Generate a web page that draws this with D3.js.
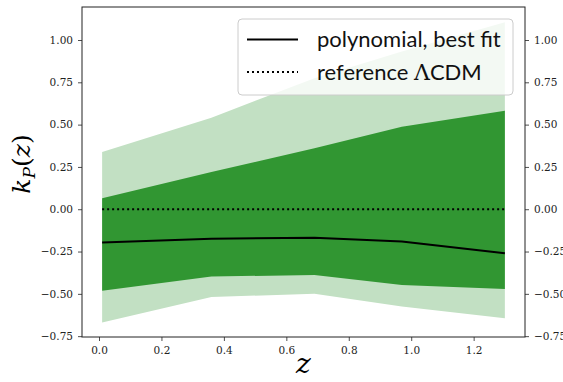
<!DOCTYPE html>
<html>
<head>
<meta charset="utf-8">
<script src="https://cdn.jsdelivr.net/npm/d3@7"></script>
<style>
  body { margin: 0; background: white; }
  svg { display: block; }
</style>
</head>
<body>
<div id="chart"></div>
<script>
// data -----------------------------------------------------------------------
const zKnots      = [0.01, 0.36, 0.69, 0.97, 1.30]
const outerUpper  = [0.338, 0.541, 0.774, 0.932, 1.105]   // light band (2 sigma)
const outerLower  = [-0.670, -0.518, -0.500, -0.575, -0.644]
const innerUpper  = [0.065, 0.220, 0.360, 0.488, 0.582]   // dark band (1 sigma)
const innerLower  = [-0.481, -0.398, -0.388, -0.447, -0.471]
const bestFit     = [-0.197, -0.175, -0.168, -0.191, -0.260]
const reference   = [0, 0, 0, 0, 0]

const xTicks = [0.0, 0.2, 0.4, 0.6, 0.8, 1.0, 1.2]
const yTicks = [-0.75, -0.5, -0.25, 0, 0.25, 0.5, 0.75, 1.0]

// layout ---------------------------------------------------------------------
const width = 563,
      height = 382,
      margin = {top: 7, right: 38, bottom: 45, left: 82},
      darkGreen  = "#319632",
      lightGreen = "#c2e0c3",
      serif = "'DejaVu Serif', 'Liberation Serif', serif"

const innerW = width - margin.left - margin.right,
      innerH = height - margin.top - margin.bottom

const svg = d3.select("#chart").append("svg")
  .attr("width", width)
  .attr("height", height)

const g = svg.append("g").attr("transform", `translate(${margin.left},${margin.top})`)

const x = d3.scaleLinear().domain([-0.0545, 1.3645]).range([0, innerW])
const y = d3.scaleLinear().domain([-0.755, 1.195]).range([innerH, 0])

const rows = zKnots.map((z, i) => ({
  z,
  o0: outerLower[i], o1: outerUpper[i],
  i0: innerLower[i], i1: innerUpper[i],
  fit: bestFit[i], ref: reference[i]
}))

// bands
g.append("path")
  .datum(rows)
  .attr("fill", lightGreen)
  .attr("d", d3.area().x(d => x(d.z)).y0(d => y(d.o0)).y1(d => y(d.o1)))

g.append("path")
  .datum(rows)
  .attr("fill", darkGreen)
  .attr("d", d3.area().x(d => x(d.z)).y0(d => y(d.i0)).y1(d => y(d.i1)))

// lines
g.append("path")
  .datum(rows)
  .attr("fill", "none")
  .attr("stroke", "black")
  .attr("stroke-width", 2)
  .attr("stroke-dasharray", "2,3")
  .attr("d", d3.line().x(d => x(d.z)).y(d => y(d.ref)))

g.append("path")
  .datum(rows)
  .attr("fill", "none")
  .attr("stroke", "black")
  .attr("stroke-width", 2)
  .attr("d", d3.line().x(d => x(d.z)).y(d => y(d.fit)))

// axes
const fmtY = v => d3.format(".2f")(v).replace("-", "\u2212")

const styleAxis = sel => {
  sel.select(".domain").remove()
  sel.selectAll(".tick line").attr("stroke", "#222").attr("stroke-width", 0.8)
  sel.selectAll(".tick text")
    .style("font-family", serif)
    .style("font-size", "10.5px")
    .attr("fill", "#222")
}

g.append("g")
  .attr("transform", `translate(0,${innerH})`)
  .call(d3.axisBottom(x).tickValues(xTicks).tickFormat(d3.format(".1f")).tickSize(4).tickPadding(6))
  .call(styleAxis)

g.append("g")
  .call(d3.axisLeft(y).tickValues(yTicks).tickFormat(fmtY).tickSize(4).tickPadding(5))
  .call(styleAxis)

// right twin axis; its labels run off the page edge as in the original
g.append("g")
  .attr("transform", `translate(${innerW},0)`)
  .call(d3.axisRight(y).tickValues(yTicks).tickFormat(fmtY).tickSize(4).tickPadding(5))
  .call(styleAxis)

// frame
g.append("rect")
  .attr("width", innerW)
  .attr("height", innerH)
  .attr("fill", "none")
  .attr("stroke", "#222")
  .attr("stroke-width", 1)

// axis titles
svg.append("text")
  .style("font-family", serif)
  .style("font-style", "italic")
  .style("font-size", "28px")
  .attr("x", margin.left + innerW / 2)
  .attr("y", 373)
  .attr("text-anchor", "middle")
  .text("z")

const yl = svg.append("text")
  .style("font-family", serif)
  .style("font-size", "25px")
  .attr("transform", `translate(30,${margin.top + innerH / 2 - 8}) rotate(-90)`)
  .attr("text-anchor", "middle")
yl.append("tspan").style("font-style", "italic").text("k")
yl.append("tspan").style("font-style", "italic").style("font-size", "17px").attr("dy", 5).text("P")
yl.append("tspan").attr("dy", -5).text("(")
yl.append("tspan").style("font-style", "italic").text("z")
yl.append("tspan").text(")")

// legend
const legend = svg.append("g").attr("transform", "translate(238,19)")
legend.append("rect")
  .attr("width", 275)
  .attr("height", 76)
  .attr("rx", 4)
  .attr("fill", "white")
  .attr("fill-opacity", 0.8)
  .attr("stroke", "#cccccc")
  .attr("stroke-width", 1)

const entries = [
  {label: "polynomial, best fit", dash: null},
  {label: "reference", dash: "2,3"}
]
entries.forEach((e, i) => {
  const cy = 20.5 + i * 32.5
  legend.append("line")
    .attr("x1", 9).attr("x2", 60)
    .attr("y1", cy).attr("y2", cy)
    .attr("stroke", "black")
    .attr("stroke-width", 2)
    .attr("stroke-dasharray", e.dash)
  const t = legend.append("text")
    .attr("x", 79)
    .attr("y", cy + 7.5)
    .style("font-family", "Lato, 'Open Sans', sans-serif")
    .style("font-size", "22px")
    .attr("fill", "#111")
  if (i === 0) {
    t.text(e.label)
  } else {
    t.append("tspan").text(e.label + " ")
    t.append("tspan").style("font-family", serif).text("\u039B")
    t.append("tspan").text("CDM")
  }
})
</script>
</body>
</html>
